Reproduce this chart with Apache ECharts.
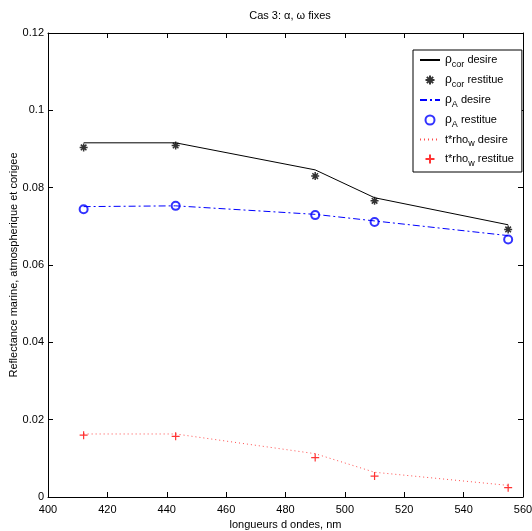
<!DOCTYPE html>
<html>
<head>
<meta charset="utf-8">
<script src="https://cdn.jsdelivr.net/npm/echarts@6/dist/echarts.min.js"></script>
<style>
  html, body { margin: 0; padding: 0; background: #fff; }
  #chart { width: 532px; height: 531px; }
</style>
</head>
<body>
<div id="chart"></div>
<script>
// wavelengths (nm)
const wavelengths = [412, 443, 490, 510, 555];
// rho_cor
const rhoCorDesire   = [0.0916, 0.0916, 0.0846, 0.0774, 0.0704];
const rhoCorRestitue = [0.0904, 0.0909, 0.0830, 0.0766, 0.0692];
// rho_A
const rhoADesire     = [0.0751, 0.0753, 0.0731, 0.0714, 0.0676];
const rhoARestitue   = [0.0744, 0.0753, 0.0729, 0.0711, 0.0666];
// t*rho_w
const tRhoWDesire    = [0.0163, 0.0163, 0.0112, 0.0064, 0.0030];
const tRhoWRestitue  = [0.0160, 0.0157, 0.0102, 0.0054, 0.0024];

const xTicks = [400, 420, 440, 460, 480, 500, 520, 540, 560];
const yTicks = [0, 0.02, 0.04, 0.06, 0.08, 0.1, 0.12];

const pairs = ys => wavelengths.map((x, i) => [x, ys[i]]);

const FONT = 'Liberation Sans, Arial, sans-serif';
const starPath = 'path://M5,0 L5,10 M0,5 L10,5 M1.5,1.5 L8.5,8.5 M8.5,1.5 L1.5,8.5';
const plusPath = 'path://M5,0 L5,10 M0,5 L10,5';

const legendLabels = {
  cd: '{g|ρ}{s|cor}{t| desire}',
  cr: '{g|ρ}{s|cor}{t| restitue}',
  ad: '{g|ρ}{s|A}{t| desire}',
  ar: '{g|ρ}{s|A}{t| restitue}',
  wd: '{t|t*rho}{s|w}{t| desire}',
  wr: '{t|t*rho}{s|w}{t| restitue}'
};

const chart = echarts.init(document.getElementById('chart'));

const axisBase = {
  type: 'value',
  axisLine: { show: true, onZero: false, lineStyle: { color: '#000', width: 1 } },
  axisTick: { show: true, inside: true, length: 5, lineStyle: { color: '#000' } },
  splitLine: { show: false }
};

chart.setOption({
  animation: false,
  backgroundColor: '#fff',
  title: {
    text: 'Cas 3: α, ω fixes',
    left: 285, textAlign: 'center', top: 5,
    textStyle: { fontFamily: FONT, fontSize: 11, fontWeight: 'normal', color: '#000' }
  },
  grid: { left: 48, right: 9, top: 33, bottom: 34, outerBoundsMode: 'none' },
  legend: {
    orient: 'vertical',
    left: 413, top: 50,
    width: 110,
    padding: [4, 8, 4, 6],
    itemGap: 5,
    itemWidth: 20, itemHeight: 9,
    backgroundColor: '#fff',
    borderColor: '#000', borderWidth: 1,
    formatter: name => legendLabels[name],
    textStyle: {
      fontFamily: FONT, fontSize: 11, color: '#000',
      rich: {
        g: { fontFamily: FONT, fontSize: 12, color: '#000' },
        s: { fontFamily: FONT, fontSize: 9, color: '#000', padding: [9, 0, 0, 0] },
        t: { fontFamily: FONT, fontSize: 11, color: '#000' }
      }
    },
    data: [
      { name: 'cd', itemStyle: { opacity: 0 } },
      'cr',
      { name: 'ad', itemStyle: { opacity: 0 } },
      { name: 'ar', itemStyle: { borderWidth: 1 } },
      { name: 'wd', itemStyle: { opacity: 0 } },
      'wr'
    ]
  },
  xAxis: [
    Object.assign({}, axisBase, {
      min: 400, max: 560, interval: 20,
      name: 'longueurs d ondes, nm',
      nameLocation: 'middle', nameGap: 20,
      nameTextStyle: { fontFamily: FONT, fontSize: 11, color: '#000' },
      axisLabel: {
        fontFamily: FONT, fontSize: 11, color: '#000', margin: 7,
        formatter: v => (xTicks.indexOf(v) >= 0 ? String(v) : '')
      }
    }),
    Object.assign({}, axisBase, {
      position: 'top', min: 400, max: 560, interval: 20,
      axisLabel: { show: false }
    })
  ],
  yAxis: [
    Object.assign({}, axisBase, {
      min: 0, max: 0.12, interval: 0.02,
      name: 'Reflectance marine, atmospherique et corigee',
      nameLocation: 'middle', nameGap: 29, nameMoveOverlap: false,
      nameTextStyle: { fontFamily: FONT, fontSize: 11, color: '#000' },
      axisLabel: {
        fontFamily: FONT, fontSize: 11, color: '#000', margin: 4,
        formatter: v => {
          const t = yTicks.find(y => Math.abs(y - v) < 1e-9);
          return t === undefined ? '' : String(+t.toFixed(2));
        }
      }
    }),
    Object.assign({}, axisBase, {
      position: 'right', min: 0, max: 0.12, interval: 0.02,
      axisLabel: { show: false }
    })
  ],
  series: [
    {
      name: 'cd', type: 'line', data: pairs(rhoCorDesire),
      symbol: 'none', lineStyle: { color: '#000', width: 1 }, itemStyle: { color: '#000' }
    },
    {
      name: 'cr', type: 'scatter', data: pairs(rhoCorRestitue),
      symbol: starPath, symbolSize: 8,
      itemStyle: { color: '#000', borderColor: '#000', borderWidth: 1.5 }
    },
    {
      name: 'ad', type: 'line', data: pairs(rhoADesire),
      symbol: 'none', lineStyle: { color: '#0000ff', width: 1, type: [7, 3, 2, 3] }, itemStyle: { color: '#0000ff' }
    },
    {
      name: 'ar', type: 'scatter', data: pairs(rhoARestitue),
      symbol: 'emptyCircle', symbolSize: 8,
      itemStyle: { color: '#0000ff', borderColor: '#0000ff', borderWidth: 1 }
    },
    {
      name: 'wd', type: 'line', data: pairs(tRhoWDesire),
      symbol: 'none', lineStyle: { color: 'rgba(255,0,0,0.7)', width: 1, type: [1, 3] }, itemStyle: { color: '#ff0000' }
    },
    {
      name: 'wr', type: 'scatter', data: pairs(tRhoWRestitue),
      symbol: plusPath, symbolSize: 8,
      itemStyle: { color: '#ff0000', borderColor: '#ff0000', borderWidth: 1.2 }
    }
  ]
});
</script>
</body>
</html>
